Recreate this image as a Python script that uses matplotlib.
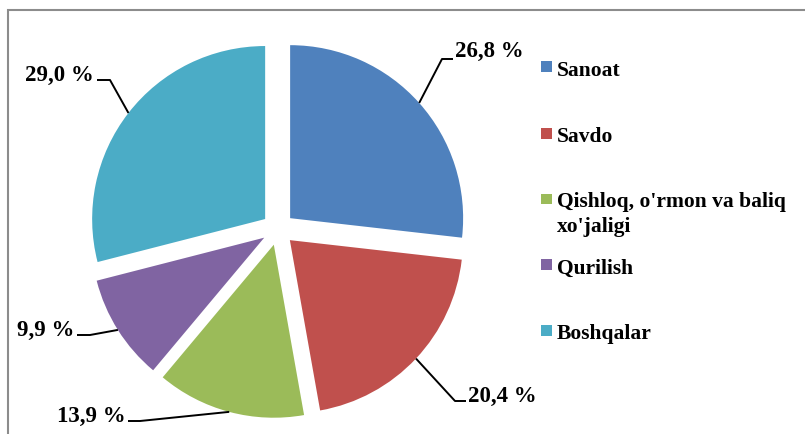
import matplotlib
matplotlib.use("Agg")
import matplotlib.pyplot as plt
from matplotlib.patches import Rectangle
import numpy as np

categories = ["Sanoat", "Savdo", "Qishloq, o'rmon va baliq\nxo'jaligi", "Qurilish", "Boshqalar"]
values = [26.8, 20.4, 13.9, 9.9, 29.0]
value_labels = ["26,8 %", "20,4 %", "13,9 %", "9,9 %", "29,0 %"]
colors = ["#4F81BD", "#C0504D", "#9BBB59", "#8064A2", "#4BACC6"]

W, H, DPI = 805, 434, 100
R_PX = 173.0
CX, CY = 278.0, 229.0  # pie centre in image pixels


def d(px, py):
    return ((px - CX) / R_PX, (CY - py) / R_PX)


fig = plt.figure(figsize=(W / DPI, H / DPI), dpi=DPI)
ax = fig.add_axes([0, 0, 1, 1])
wedges, _ = ax.pie(values, colors=colors, startangle=90, counterclock=False,
                   explode=[0.094] * len(values), radius=1.0,
                   wedgeprops=dict(linewidth=0))
ax.set_xlim(-CX / R_PX, (W - CX) / R_PX)
ax.set_ylim((CY - H) / R_PX, CY / R_PX)
ax.set_aspect('auto')
ax.axis('off')

font = dict(family="Liberation Serif", weight="bold")

# label layout: (elbow px, line end px, text anchor px, ha)
layout = [
    ((442, 59), (453, 59), (455, 51), "left"),
    ((455, 401), (466, 401), (468, 396), "left"),
    ((140, 421), (128, 421), (126, 416), "right"),
    ((90, 335), (77, 335), (74, 330), "right"),
    ((110, 80), (97, 80), (94, 75), "right"),
]

for w, lab, (elb, end, txt, ha) in zip(wedges, value_labels, layout):
    mid = np.deg2rad((w.theta1 + w.theta2) / 2)
    cx, cy = w.center
    ex, ey = cx + w.r * np.cos(mid), cy + w.r * np.sin(mid)
    e1 = d(*elb)
    e2 = d(*end)
    ax.plot([ex, e1[0], e2[0]], [ey, e1[1], e2[1]], color="black", lw=1.4,
            solid_capstyle="butt")
    t = d(*txt)
    ax.text(t[0], t[1], lab, ha=ha, va="center", fontsize=16.5, **font)

# legend (manual, Excel-like placement)
leg_y = [66.5, 133, 199, 264, 330]
LINE_PX = 23
for cat, col, y in zip(categories, colors, leg_y):
    fig.patches.append(Rectangle((541 / W, 1 - (y + 5.5) / H), 11 / W, 11 / H,
                                 transform=fig.transFigure, facecolor=col,
                                 edgecolor="none"))
    nlines = cat.count("\n") + 1
    base = y + 9.5 + (nlines - 1) * LINE_PX
    fig.text(557 / W, 1 - base / H, cat, ha="left", va="baseline",
             fontsize=15.5, linespacing=1.27, **font)

# chart border
fig.patches.append(Rectangle((7.5 / W, -0.1), 2, 1.1 - 10.5 / H,
                             transform=fig.transFigure, fill=False,
                             edgecolor="#8c8c8c", lw=1.5))

fig.savefig("out.png", dpi=DPI)
